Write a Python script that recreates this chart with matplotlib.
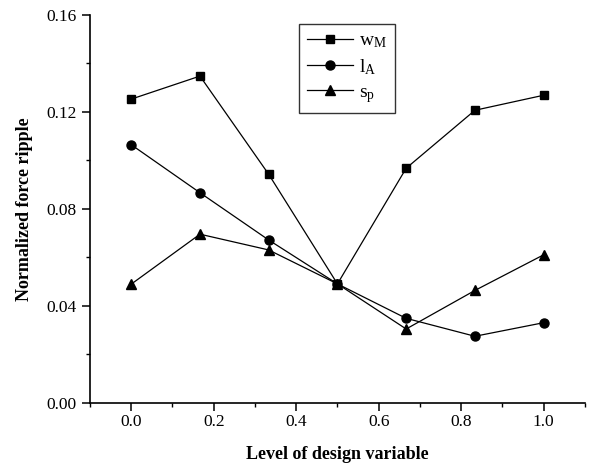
import matplotlib
matplotlib.use('Agg')
import matplotlib.pyplot as plt
from matplotlib.ticker import MultipleLocator

plt.rcParams['font.family'] = ['Liberation Serif', 'DejaVu Serif']
plt.rcParams['mathtext.default'] = 'regular'

# levels of the design variable
levels = [0.0, 1 / 6, 1 / 3, 0.5, 2 / 3, 5 / 6, 1.0]

# normalized force ripple for each design variable
ripple_wm = [0.1252, 0.1347, 0.0942, 0.0490, 0.0967, 0.1206, 0.1268]
ripple_la = [0.1064, 0.0866, 0.0671, 0.0490, 0.0348, 0.0274, 0.0330]
ripple_sp = [0.0489, 0.0695, 0.0630, 0.0490, 0.0304, 0.0463, 0.0610]

series_labels = [r'$w_M$', r'$l_A$', r'$s_p$']

fig = plt.figure(figsize=(5.92, 4.68), dpi=100)
ax = fig.add_axes([0.152, 0.1395, 0.836, 0.829])

# one line per design variable
ax.plot(levels, ripple_wm, color='black', lw=0.9, marker='s', ms=6, label=series_labels[0])
ax.plot(levels, ripple_la, color='black', lw=0.9, marker='o', ms=6.5, label=series_labels[1])
ax.plot(levels, ripple_sp, color='black', lw=0.9, marker='^', ms=7.5, label=series_labels[2])

ax.set_xlim(-0.1, 1.1)
ax.set_ylim(0.0, 0.16)
ax.xaxis.set_major_locator(MultipleLocator(0.2))
ax.xaxis.set_minor_locator(MultipleLocator(0.1))
ax.yaxis.set_major_locator(MultipleLocator(0.04))
ax.yaxis.set_minor_locator(MultipleLocator(0.02))
ax.xaxis.set_major_formatter(plt.FormatStrFormatter('%.1f'))
ax.yaxis.set_major_formatter(plt.FormatStrFormatter('%.2f'))

# only left and bottom axis lines, ticks pointing out
ax.spines['top'].set_visible(False)
ax.spines['right'].set_visible(False)
ax.spines['left'].set_linewidth(1.2)
ax.spines['bottom'].set_linewidth(1.2)
ax.tick_params(which='major', direction='out', length=6, width=1.1, labelsize=12.5)
ax.tick_params(which='minor', direction='out', length=3, width=1.0)
ax.tick_params(axis='x', which='major', pad=2)

ax.set_xlabel('Level of design variable', fontsize=13, fontweight='bold', labelpad=12)
ax.set_ylabel('Normalized force ripple', fontsize=13, fontweight='bold', labelpad=10)

leg = ax.legend(loc='upper left', bbox_to_anchor=(0.422, 0.976), fontsize=14,
                handlelength=2.4, frameon=True, fancybox=False, edgecolor='black',
                borderpad=0.4, labelspacing=0.35, handletextpad=0.3, borderaxespad=0)
leg.get_frame().set_linewidth(1.0)

fig.savefig('out.png', dpi=100)
